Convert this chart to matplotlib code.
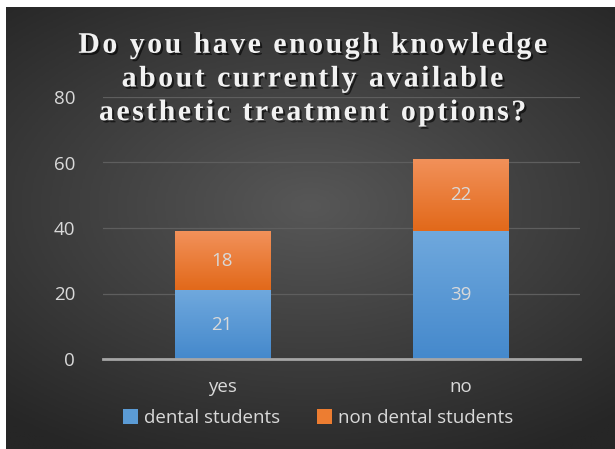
import matplotlib.pyplot as plt
import matplotlib.patheffects as pe
from matplotlib.patches import Rectangle
import numpy as np

# Data
answers = ['yes', 'no']
dental = [21, 39]
non_dental = [18, 22]
series_names = ['dental students', 'non dental students']
yticks = [0, 20, 40, 60, 80]

blue = '#5B9BD5'
orange = '#ED7D31'
txt = '#D9D9D9'

fig = plt.figure(figsize=(6.15, 4.49), dpi=100)
fig.patch.set_facecolor('white')

# dark radial-gradient panel (white strip left and top as in the screenshot)
bg = fig.add_axes([6 / 615, 0, 1 - 6 / 615, 1 - 7 / 449])
bg.set_axis_off()
yy, xx = np.mgrid[-1:1:300j, -1:1:400j]
r = np.sqrt((xx * 0.9) ** 2 + ((yy + 0.1) * 1.1) ** 2)
grad = np.clip(1 - r / 1.4, 0, 1)
bg.imshow(grad, cmap=plt.matplotlib.colors.LinearSegmentedColormap.from_list(
    'bg', ['#262626', '#575757']), aspect='auto', extent=[0, 1, 0, 1], vmin=0, vmax=1)

ax = fig.add_axes([103 / 615, 1 - 359 / 449, 477 / 615, 262 / 449])
ax.patch.set_alpha(0)
x = np.arange(len(answers))
w = 0.4

def grad_bar(xc, bottom, height, c_top, c_bot):
    img = np.linspace(0, 1, 50).reshape(-1, 1)
    cm = plt.matplotlib.colors.LinearSegmentedColormap.from_list('g', [c_bot, c_top])
    im = ax.imshow(img, cmap=cm, aspect='auto', origin='lower',
                   extent=[xc - w / 2, xc + w / 2, bottom, bottom + height], zorder=3)
    clip = Rectangle((xc - w / 2, bottom), w, height, transform=ax.transData)
    im.set_clip_path(clip)

b1 = ax.bar(x, dental, w, color=blue, zorder=2, label=series_names[0])
b2 = ax.bar(x, non_dental, w, bottom=dental, color=orange, zorder=2, label=series_names[1])
for i in range(len(answers)):
    grad_bar(x[i], 0, dental[i], '#6FA8DD', '#4589CC')
    grad_bar(x[i], dental[i], non_dental[i], '#F2915A', '#E2691A')
    ax.text(x[i], dental[i] / 2, str(dental[i]), ha='center', va='center',
            color=txt, fontsize=13.5, family='Open Sans', zorder=5)
    ax.text(x[i], dental[i] + non_dental[i] / 2, str(non_dental[i]), ha='center',
            va='center', color=txt, fontsize=13.5, family='Open Sans', zorder=5)

ax.set_xlim(-0.5, 1.5)
ax.set_ylim(0, 80)
ax.set_yticks(yticks)
ax.set_xticks(x)
ax.set_xticklabels(answers)
ax.grid(axis='y', color='#5E5E5E', linewidth=0.9, zorder=0)
ax.set_axisbelow(True)
for s in ['top', 'right', 'left']:
    ax.spines[s].set_visible(False)
ax.spines['bottom'].set_color('#A6A6A6')
ax.spines['bottom'].set_linewidth(2)
ax.spines['bottom'].set_zorder(4)
ax.tick_params(length=0, colors=txt, labelsize=13.5, pad=20)
ax.tick_params(axis='x', pad=14)
for lab in ax.get_xticklabels() + ax.get_yticklabels():
    lab.set_family('Open Sans')

leg = fig.legend(handles=[b1, b2], loc='center', bbox_to_anchor=(318 / 615, 1 - 418 / 449),
                 ncol=2, frameon=False, handlelength=0.8, handleheight=0.8,
                 handletextpad=0.3, columnspacing=2.0,
                 prop={'family': 'Open Sans', 'size': 13.5})
for t in leg.get_texts():
    t.set_color(txt)

title_lines = ['Do you have enough knowledge',
               'about currently available',
               'aesthetic treatment options?']
# wide letter spacing as in the original slide title
title = '\n'.join('\u200a'.join(line) for line in title_lines)
fig.text(313 / 615, 1 - 79 / 449, title, ha='center', va='center', color='#F2F2F2',
         fontsize=21.5, fontweight='bold', family='Liberation Serif',
         linespacing=1.32,
         path_effects=[pe.withSimplePatchShadow(offset=(1.5, -1.5), shadow_rgbFace='black', alpha=0.6)])

fig.savefig('out.png', dpi=100)
